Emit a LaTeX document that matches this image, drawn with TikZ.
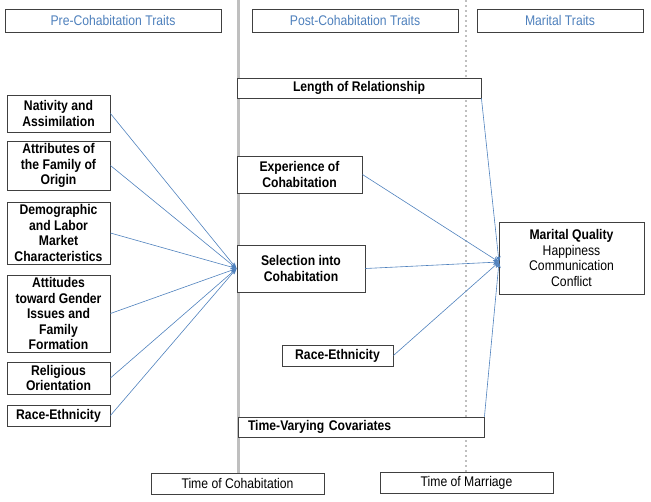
\documentclass[tikz,border=0pt]{standalone}
\usepackage{fontspec}
\setmainfont{Liberation Sans}[FakeStretch=0.87]
\usetikzlibrary{arrows.meta}
\definecolor{traitblue}{RGB}{79,129,189}
\definecolor{boxgray}{RGB}{64,64,64}
\definecolor{linegray}{RGB}{191,191,191}

\begin{document}
\begin{tikzpicture}[x=1pt,y=-1pt,
    trait/.style={draw=boxgray,line width=0.9pt,fill=white,inner sep=0pt,
      align=center,font=\fontsize{14}{15.5}\selectfont\bfseries},
    header/.style={draw=boxgray,line width=0.9pt,fill=white,inner sep=0pt,
      minimum height=23pt,text=traitblue,font=\fontsize{14}{15}\selectfont},
    timebox/.style={draw=boxgray,line width=0.9pt,fill=white,inner sep=0pt,
      minimum height=21pt,minimum width=173pt,font=\fontsize{14}{15}\selectfont},
    link/.style={draw=traitblue,line width=0.6pt,-{Stealth[length=6pt,width=4.5pt]}}]
  \useasboundingbox (0,0) rectangle (651,501);
  \coordinate (cohtop) at (238,0);
  \coordinate (cohbot) at (238,473);
  \coordinate (martop) at (466,0);
  \coordinate (marbot) at (466,472);
  \draw[linegray,line width=3pt] (cohtop) -- (cohbot);
  \draw[linegray,line width=2pt,dash pattern=on 2pt off 3pt] (martop) -- (marbot);

  \node[header,minimum width=216pt] (pre) at (113,20.5) {Pre-Cohabitation Traits};
  \node[header,minimum width=206pt] (post) at (355,20.5) {Post-Cohabitation Traits};
  \node[header,minimum width=166pt] (mar) at (560,20.5) {Marital Traits};

  \begin{scope}[every node/.append style={minimum width=103pt}]
    \node[trait,minimum height=37pt] (nat) at (58.5,113.5) {Nativity and\\Assimilation};
    \node[trait,minimum height=49pt] (fam) at (58.5,165.5) {Attributes of\\the Family of\\Origin};
    \node[trait,minimum height=62pt] (dem) at (58.5,233) {Demographic\\and Labor\\Market\\Characteristics};
    \node[trait,minimum height=77pt] (att) at (58.5,313.5) {Attitudes\\toward Gender\\Issues and\\Family\\Formation};
    \node[trait,minimum height=32pt] (rel) at (58.5,378) {Religious\\Orientation};
    \node[trait,minimum height=21pt] (race) at (58.5,415.5) {Race-Ethnicity};
  \end{scope}

  \node[trait,minimum width=244pt,minimum height=20pt] (len) at (359,88) {Length of Relationship};
  \node[trait,minimum width=125pt,minimum height=37pt] (exp) at (299.5,174.5) {Experience of\\Cohabitation};
  \node[trait,minimum width=128pt,minimum height=47pt] (sel) at (301,268.5) {Selection into\\Cohabitation};
  \node[trait,minimum width=111pt,minimum height=21pt] (racepost) at (337.5,355.5) {Race-Ethnicity};
  \node[trait,text width=226pt,inner xsep=10pt,minimum height=20pt,align=left] (tvc) at (361,427) {Time-Varying Covariates};

  \node[trait,minimum width=145pt,minimum height=72pt,font=\fontsize{14}{15.5}\selectfont] (mq) at (571.5,258)
    {\textbf{Marital Quality}\\Happiness\\Communication\\Conflict};
  \coordinate (mqin) at (499,262);

  \node[timebox] (tcoh) at (237.5,483.5) {Time of Cohabitation};
  \node[timebox] (tmar) at (466.5,482.5) {Time of Marriage};

  \foreach \n in {nat,fam,dem,att,rel,race}
    \draw[link] (\n.east) -- (sel.west);
  \draw[link] (len.south east) -- (mqin);
  \draw[link] (exp.east) -- (mqin);
  \draw[link] (sel.east) -- (mqin);
  \draw[link] (racepost.east) -- (mqin);
  \draw[link] (tvc.north east) -- (mqin);
\end{tikzpicture}
\end{document}
